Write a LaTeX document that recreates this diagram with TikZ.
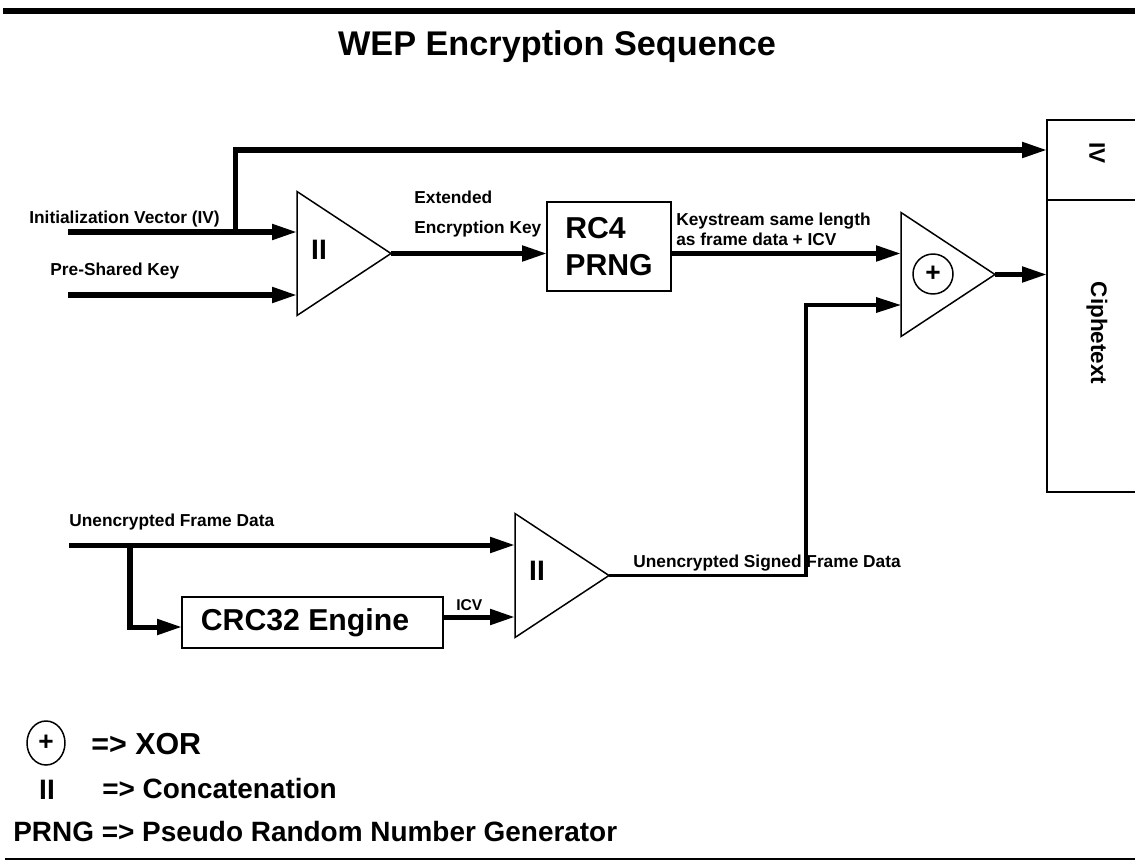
\documentclass[tikz,border=0pt]{standalone}
\usepackage{fontspec}
\setmainfont{Liberation Sans}
\usetikzlibrary{arrows.meta,shapes.geometric}

\tikzset{
  flow/.style={line width=2.85pt,-{Triangle[length=0.5cm,width=0.3cm]}},
  sigflow/.style={flow,line width=2pt},
  gate/.style={draw,line width=0.85pt,isosceles triangle,isosceles triangle stretches,
               minimum width=2.48cm,minimum height=1.88cm,inner sep=0pt,outer sep=0pt,anchor=west},
  block/.style={draw,line width=0.85pt,inner sep=0pt,outer sep=0pt,
                font=\fontsize{17.2}{21}\selectfont\bfseries},
  outbox/.style={draw,line width=0.85pt,minimum width=2cm,inner sep=0pt,outer sep=0pt,anchor=north west},
  boxlbl/.style={rotate=-90,inner sep=0pt,font=\fontsize{12.8}{14}\selectfont\bfseries},
  lbl/.style={inner sep=0pt,anchor=west,font=\fontsize{9.85}{11.5}\selectfont\bfseries},
  sym/.style={inner sep=0pt,font=\fontsize{16}{18}\selectfont\bfseries},
  keytext/.style={inner sep=0pt,anchor=west,font=\fontsize{15.9}{18}\selectfont\bfseries}
}

\begin{document}
\begin{tikzpicture}[x=0.02cm,y=-0.02cm]
  \useasboundingbox (0,0) rectangle (1135,865);
  \clip (0,0) rectangle (1135,865);

  % frame and title
  \fill (3,8) rectangle (1135,14);
  \draw[line width=1.1pt] (5,859) -- (1135,859);
  \node[inner sep=0pt,font=\fontsize{19.5}{23}\selectfont\bfseries] (title) at (557,47) {WEP Encryption Sequence};

  % output frame
  \node[outbox,minimum height=1.6cm] (ivbox) at (1047,120) {};
  \node[outbox,minimum height=5.84cm] (ctbox) at (1047,200) {};
  \node[boxlbl] (ivname) at (1097,153) {IV};
  \node[boxlbl] (ctname) at (1097,333) {Ciphetext};

  % key path
  \coordinate (ivin) at (68,232);
  \coordinate (pskin) at (68,295);
  \coordinate (ivbr) at (235,232);
  \coordinate (ivtop) at (235,150);
  \node[gate] (cat1) at (297,253.5) {};
  \node[sym] (cat1sym) at (319,250) {II};
  \node[block,align=left,minimum width=2.48cm,minimum height=1.78cm] (rc4) at (609,246.5) {RC4\\PRNG};
  \node[gate] (xor) at (901,274.5) {};
  \node[draw,circle,line width=0.85pt,minimum size=0.8cm,inner sep=0pt,
        font=\fontsize{15}{15}\selectfont\bfseries] (xorsym) at (933,274) {\raisebox{-1.2pt}{+}};

  \node[lbl] (ivlbl) at (29,219) {Initialization Vector (IV)};
  \node[lbl] (psklbl) at (50,271) {Pre-Shared Key};
  \node[lbl,align=left,font=\fontsize{9.85}{17}\selectfont\bfseries] (extlbl) at (414,214) {Extended\\Encryption Key};
  \node[lbl,align=left,font=\fontsize{9.85}{11.4}\selectfont\bfseries] (kslbl) at (676,229) {Keystream same length\\as frame data + ICV};

  \draw[flow] (ivin) -- (ivin -| cat1.west);
  \draw[flow] (pskin) -- (pskin -| cat1.west);
  \draw[flow] (ivbr) -- (ivtop) -- (ivtop -| ivbox.west);
  \draw[flow] (cat1.east) -- (cat1.east -| rc4.west);
  \draw[flow] (cat1.east -| rc4.east) -- (cat1.east -| xor.west);
  \draw[flow] (xor.east) -- (xor.east -| ctbox.west);

  % frame data path
  \coordinate (fdin) at (69,545);
  \coordinate (fdbr) at (130,545);
  \coordinate (crcin) at (130,627);
  \coordinate (icvout) at (443,617);
  \coordinate (sgup) at (806,305);
  \node[gate] (cat2) at (515,575.5) {};
  \node[sym] (cat2sym) at (537,571) {II};
  \node[block,minimum width=5.22cm,minimum height=1.02cm] (crc) at (312.5,622.5) {CRC32 Engine\hspace*{0.3cm}};

  \node[lbl] (fdlbl) at (69,522) {Unencrypted Frame Data};
  \node[lbl,font=\fontsize{8.9}{10}\selectfont\bfseries] (icvlbl) at (456,605) {ICV};

  \draw[flow] (fdin) -- (fdin -| cat2.west);
  \draw[flow] (fdbr) -- (crcin) -- (crcin -| crc.west);
  \draw[flow] (icvout) -- (icvout -| cat2.west);
  \draw[sigflow] (cat2.east) -| (sgup) -- (sgup -| xor.west);
  \node[lbl] (sglbl) at (633,563) {Unencrypted Signed Frame Data};

  % legend
  \node[draw,ellipse,line width=0.85pt,minimum width=0.76cm,minimum height=0.88cm,inner sep=0pt,
        font=\fontsize{15}{15}\selectfont\bfseries] (keyxor) at (46,743) {+};
  \node[keytext,font=\fontsize{17.3}{19}\selectfont\bfseries] (keyxortxt) at (91,744) {=> XOR};
  \node[sym] (keycat) at (47,790) {II};
  \node[keytext] (keycattxt) at (102,789) {=> Concatenation};
  \node[keytext] (keyprng) at (13,832) {PRNG => Pseudo Random Number Generator};
\end{tikzpicture}
\end{document}
